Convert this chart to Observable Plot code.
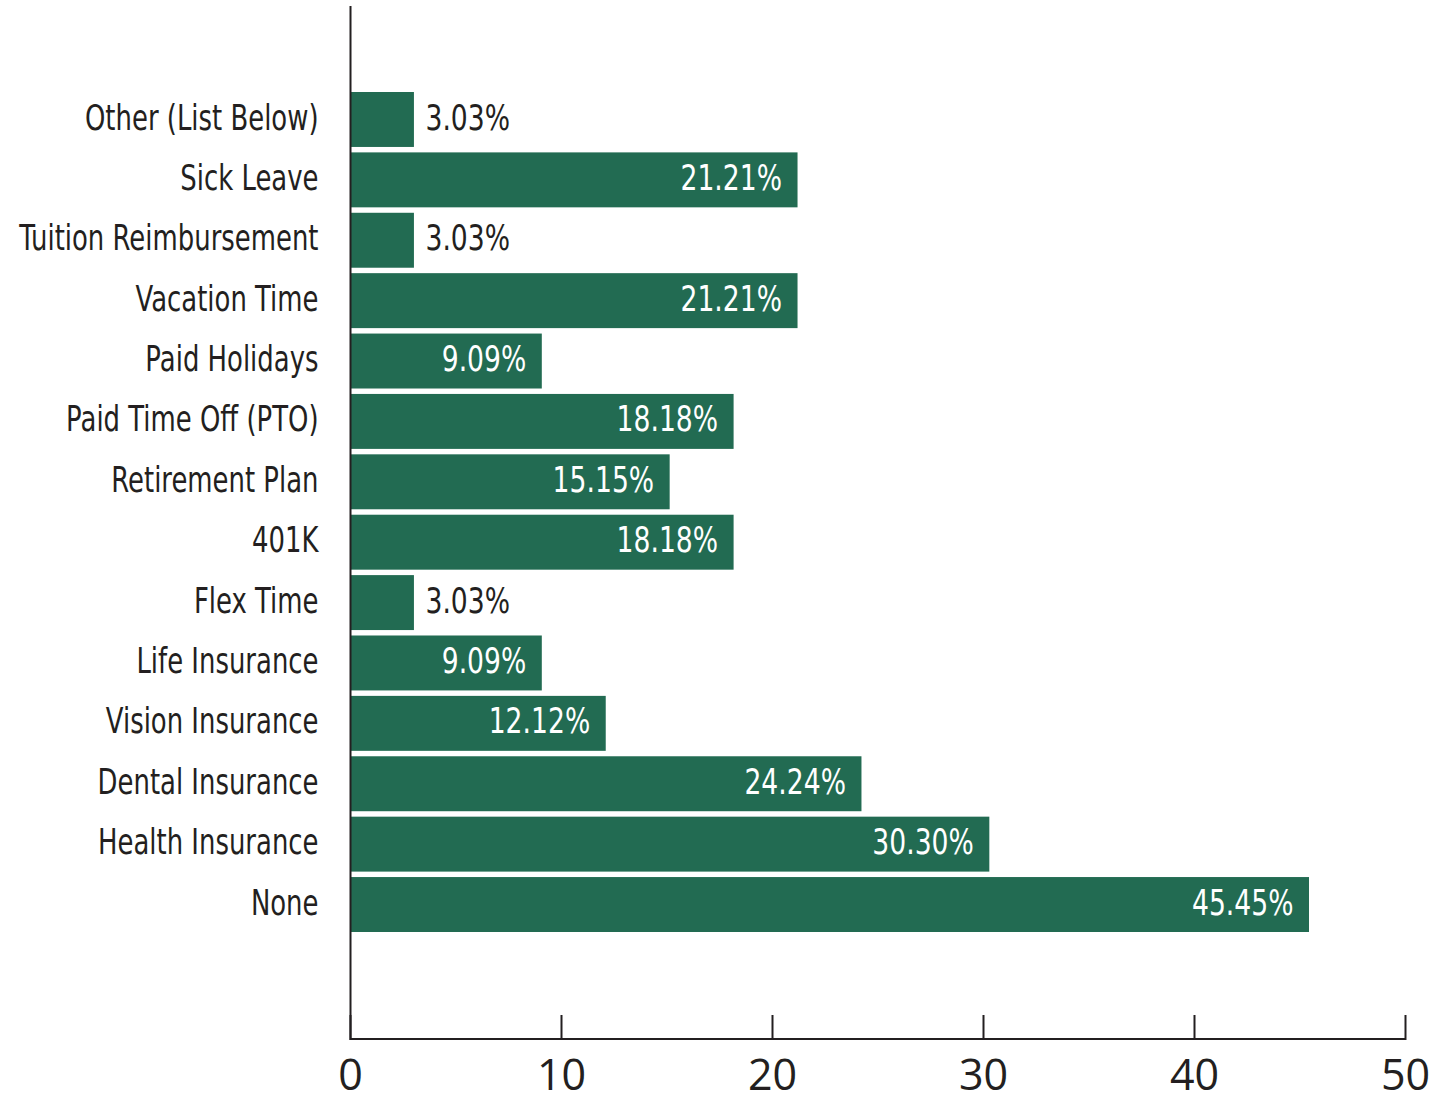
<!DOCTYPE html>
<html>
<head>
<meta charset="utf-8">
<script src="https://cdn.jsdelivr.net/npm/d3@7"></script>
<script src="https://cdn.jsdelivr.net/npm/@observablehq/plot@0.6"></script>
<style>
  html, body { margin: 0; padding: 0; background: #fff; }
  #chart svg { display: block; }
</style>
</head>
<body>
<div id="chart"></div>
<script>
const categories = [
  "Other (List Below)", "Sick Leave", "Tuition Reimbursement", "Vacation Time",
  "Paid Holidays", "Paid Time Off (PTO)", "Retirement Plan", "401K", "Flex Time",
  "Life Insurance", "Vision Insurance", "Dental Insurance", "Health Insurance", "None"
];
const values = [3.03, 21.21, 3.03, 21.21, 9.09, 18.18, 15.15, 18.18, 3.03, 9.09, 12.12, 24.24, 30.30, 45.45];
const xTicks = [0, 10, 20, 30, 40, 50];

const data = categories.map((c, i) => ({category: c, value: values[i], label: values[i].toFixed(2) + "%"}));
const inside = data.filter(d => d.value >= 5);
const outside = data.filter(d => d.value < 5);

const condensed = "'DejaVu Sans', sans-serif";
const ink = "#231f20";
const green = "#226b52";

const chart = Plot.plot({
  width: 1448,
  height: 1097,
  marginLeft: 350,
  marginRight: 43,
  marginTop: 6,
  marginBottom: 57,
  style: {background: "#fff", color: ink},
  x: {domain: [0, 50]},
  y: {domain: categories, range: [92, 932], paddingInner: 0.09, paddingOuter: 0, round: false},
  marks: [
    Plot.barX(data, {x: "value", y: "category", fill: green}),
    // bottom axis line spanning the x domain
    Plot.barX([xTicks[0]], {x1: d => d, x2: () => xTicks[xTicks.length - 1], fill: ink, insetTop: 1032}),
    Plot.ruleX([0], {stroke: ink, strokeWidth: 2}),
    Plot.tickX(xTicks, {x: d => d, stroke: ink, strokeWidth: 2, insetTop: 1009}),
    Plot.axisX({ticks: xTicks, tickSize: 0, tickPadding: 19,
      fontSize: 43, fontFamily: "'Open Sans', sans-serif", fill: ink, label: null}),
    Plot.axisY({tickSize: 0, tickPadding: 32, dy: -2, fontSize: 36, fontFamily: condensed, fill: ink, label: null}),
    Plot.text(inside, {x: "value", y: "category", text: "label", textAnchor: "end", dx: -16, dy: -2,
      fill: "#fff", fontSize: 36, fontFamily: condensed}),
    Plot.text(outside, {x: "value", y: "category", text: "label", textAnchor: "start", dx: 11, dy: -2,
      fill: ink, fontSize: 36, fontFamily: condensed})
  ]
});

// condense the text glyphs horizontally around each text's anchor point
function condense(sel, s) {
  chart.querySelectorAll(sel).forEach(t => {
    const tr = t.getAttribute("transform");
    if (tr) {
      t.setAttribute("transform", tr + ` scale(${s},1)`);
    } else {
      const x = +(t.getAttribute("x") || 0);
      t.setAttribute("transform", `translate(${x},0) scale(${s},1) translate(${-x},0)`);
    }
  });
}
condense('g[aria-label="y-axis tick label"] text', 0.72);
condense('g[aria-label="text"] text', 0.74);

document.getElementById("chart").appendChild(chart);
</script>
</body>
</html>
